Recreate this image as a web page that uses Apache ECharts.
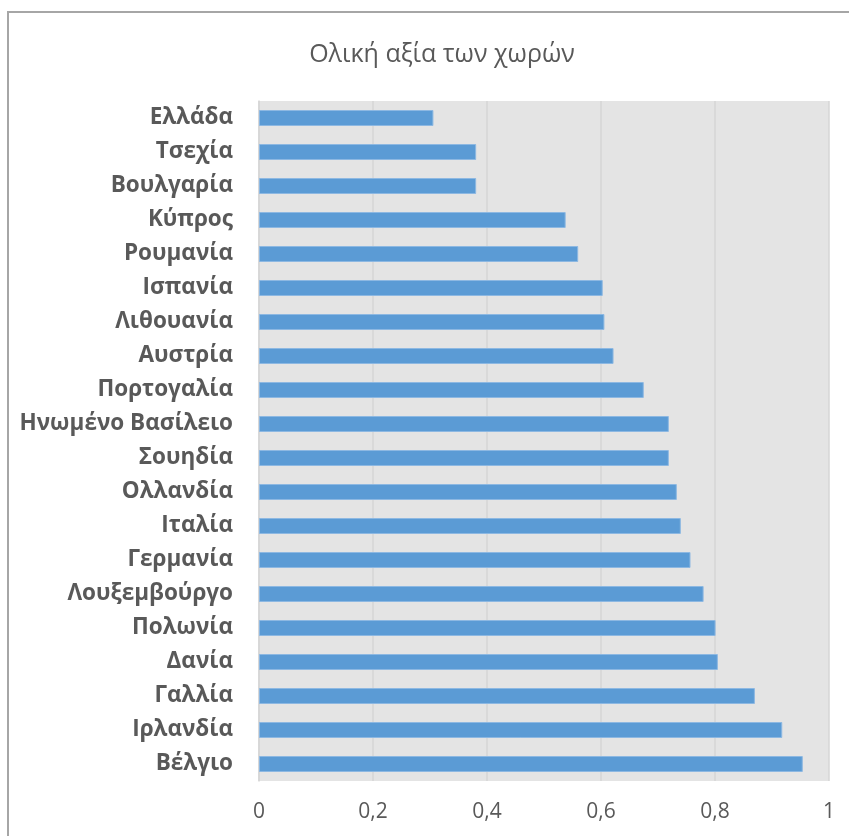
<!DOCTYPE html>
<html>
<head>
<meta charset="utf-8">
<script src="https://cdn.jsdelivr.net/npm/echarts@6/dist/echarts.min.js"></script>
<style>
html,body{margin:0;padding:0;background:#fff;}
#chart{width:849px;height:836px;}
</style>
</head>
<body>
<div id="chart"></div>
<script>
const titleText = 'Ολική αξία των χωρών';
const countries = ['Ελλάδα','Τσεχία','Βουλγαρία','Κύπρος','Ρουμανία','Ισπανία','Λιθουανία','Αυστρία','Πορτογαλία','Ηνωμένο Βασίλειο','Σουηδία','Ολλανδία','Ιταλία','Γερμανία','Λουξεμβούργο','Πολωνία','Δανία','Γαλλία','Ιρλανδία','Βέλγιο'];
const values = [0.306,0.381,0.381,0.538,0.560,0.603,0.606,0.622,0.675,0.719,0.719,0.733,0.740,0.757,0.780,0.801,0.805,0.870,0.918,0.954];
const axisMin = 0, axisMax = 1, axisStep = 0.2;

const chart = echarts.init(document.getElementById('chart'), null, {renderer:'canvas'});
chart.setOption({
  backgroundColor:'#ffffff',
  animation:false,
  graphic:[{
    type:'rect', silent:true, z:-10,
    shape:{x:8, y:12, width:900, height:900},
    style:{fill:'none', stroke:'#A6A6A6', lineWidth:2}
  }],
  title:{
    text:titleText, left:437, top:37, textAlign:'center',
    textStyle:{fontFamily:'Open Sans', fontWeight:'normal', fontSize:25, color:'#595959'}
  },
  grid:{left:259, right:20, top:101, bottom:55, show:true, backgroundColor:'#E4E4E4', borderWidth:0},
  xAxis:{
    type:'value', min:axisMin, max:axisMax, interval:axisStep,
    axisLine:{show:false}, axisTick:{show:false},
    splitLine:{show:true, lineStyle:{color:'#D6D6D6', width:1.5}},
    axisLabel:{margin:21, fontFamily:'Open Sans', fontSize:21, color:'#595959',
      formatter:v => String(+v.toFixed(2)).replace('.',',')}
  },
  yAxis:{
    type:'category', data:countries, inverse:true,
    axisLine:{show:true, lineStyle:{color:'#D6D6D6', width:1.5}},
    axisTick:{show:false},
    axisLabel:{margin:26, fontFamily:'Open Sans', fontWeight:'bold', fontSize:22.5, color:'#595959'}
  },
  series:[{
    type:'bar', data:values, barWidth:16,
    itemStyle:{color:'#5B9BD5', borderColor:'#8DB8E2', borderWidth:1}
  }]
});
</script>
</body>
</html>
